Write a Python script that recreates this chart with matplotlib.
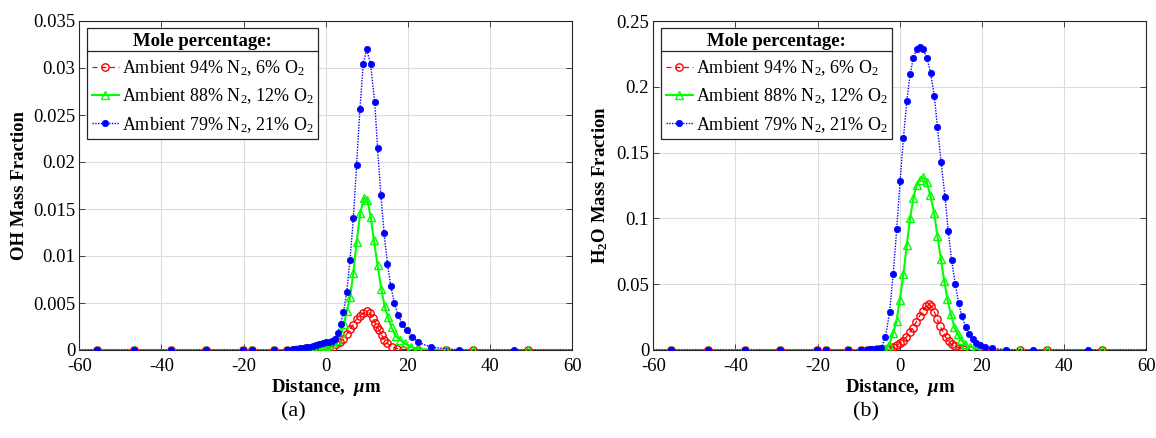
import matplotlib
matplotlib.use("Agg")
import matplotlib.pyplot as plt
from matplotlib.lines import Line2D
from matplotlib.ticker import FixedLocator, FixedFormatter

plt.rcParams['font.family'] = ['Liberation Serif', 'DejaVu Serif']
plt.rcParams['mathtext.fontset'] = 'custom'
plt.rcParams['mathtext.rm'] = 'Liberation Serif'
plt.rcParams['mathtext.it'] = 'Liberation Serif:italic:bold'
plt.rcParams['mathtext.bf'] = 'Liberation Serif:bold'
plt.rcParams['axes.unicode_minus'] = False

# ---------------- data: panel (a) OH mass fraction ----------------
a_red_x = [-60, -55.7, -46.7, -37.8, -29.1, -20.1, -17.9, -12.5, -9.4, -8.0, -7.2, -6.4, -5.6, -4.8,
           -4.0, -3.2, -2.4, -1.6, -0.8, 0.0, 0.9, 1.7, 2.6, 3.5, 4.3, 5.1, 5.9, 6.7, 7.5, 8.3, 9.1,
           9.95, 10.8, 11.4, 12.0, 12.5, 13.0, 13.6, 14.2, 15.0, 16.0, 17.3, 18.9, 22.5, 29.2, 35.9,
           49.3, 60]
a_red_y = [0, 0, 0, 0, 0, 0, 0, 0, 0, 0, 0, 0, 0, 0.00001,
           0.00001, 0.00001, 0.00002, 0.00002, 0.00003, 0.00005, 0.0001, 0.00035, 0.0006, 0.00088,
           0.0012, 0.0017, 0.0022, 0.0027, 0.0033, 0.0036, 0.0039,
           0.0041, 0.0039, 0.0034, 0.0029, 0.0025, 0.0021, 0.0016, 0.0011, 0.0007, 0.00035, 0.00014,
           0.00005, 0, 0, 0, 0, 0]

a_green_x = [-60, -55.7, -46.7, -37.8, -29.1, -20.1, -17.9, -12.5, -9.4, -8.0, -7.2, -6.4, -5.6,
             -4.8, -4.0, -3.2, -2.4, -1.6, -0.8, 0.0, 0.8, 1.7, 2.7, 3.6, 4.4, 5.1, 5.9, 6.7, 7.5,
             8.4, 9.3, 10.1, 10.9, 11.7, 12.6, 13.5, 14.3, 15.1, 16.0, 17.0, 18.0, 19.2, 20.8, 22.5,
             29.2, 35.9, 49.3, 60]
a_green_y = [0, 0, 0, 0, 0, 0, 0, 0, 0, 0.00005, 0.0001, 0.0001, 0.00012,
             0.00015, 0.0002, 0.00022, 0.00028, 0.0003, 0.00035, 0.0004, 0.0005, 0.0007, 0.0011,
             0.0018, 0.0028, 0.0041, 0.0056, 0.0082, 0.0115,
             0.0146, 0.0162, 0.0160, 0.0142, 0.0117, 0.0090, 0.0065, 0.0047, 0.0035, 0.0024, 0.0015,
             0.0011, 0.0007, 0.0003, 0.0001, 0, 0, 0, 0]

a_blue_x = [-60, -55.7, -46.7, -37.8, -29.1, -20.1, -17.9, -12.5, -9.4, -8.0, -7.2, -6.4, -5.6,
            -4.8, -4.0, -3.2, -2.4, -1.6, -0.8, 0.0, 0.7, 1.4, 2.2, 2.9, 3.6, 4.3, 5.1, 5.9, 6.7,
            7.5, 8.3, 9.1, 9.95, 10.9, 11.9, 12.6, 13.4, 14.2, 15.0, 15.8, 16.7, 17.6, 18.6, 19.7,
            21.1, 22.5, 25.7, 32.5, 45.9, 60]
a_blue_y = [0, 0, 0, 0, 0, 0, 0, 0, 0, 0.0001, 0.00015, 0.0002, 0.00025,
            0.0003, 0.00035, 0.0004, 0.0005, 0.0006, 0.0007, 0.0008, 0.0009, 0.001, 0.0012, 0.0018,
            0.0028, 0.0040, 0.0062, 0.0096, 0.0140,
            0.0197, 0.0256, 0.0304, 0.0320, 0.0304, 0.0264, 0.0215, 0.0165, 0.0124, 0.0092, 0.0068,
            0.0050, 0.0037, 0.0028, 0.0021, 0.0014, 0.0008, 0.0003, 0, 0, 0]

# ---------------- data: panel (b) H2O mass fraction ----------------
b_red_x = [-60, -55.7, -46.7, -37.8, -29.1, -20.1, -17.9, -12.5, -9.4, -8.0, -7.2, -6.4, -5.6,
           -4.8, -4.0, -3.2, -2.4, -1.6, -0.8, 0.0, 0.8, 1.6, 2.4, 3.2, 4.0, 4.8, 5.6, 6.3, 7.0,
           7.7, 8.4, 9.1, 9.8, 10.5, 11.2, 11.9, 12.6, 13.4, 14.4, 15.5, 17.3, 19.1, 22.5, 29.2,
           35.9, 49.3, 60]
b_red_y = [0, 0, 0, 0, 0, 0, 0, 0, 0, 0.0001, 0.0002, 0.0003, 0.0004,
           0.0006, 0.0008, 0.0011, 0.0016, 0.0025, 0.0035, 0.0050, 0.0072, 0.0098, 0.0134, 0.0170,
           0.0212, 0.0258, 0.0300, 0.0335, 0.0348,
           0.0335, 0.0290, 0.0232, 0.0185, 0.0139, 0.0095, 0.0065, 0.0043, 0.0027, 0.0016, 0.0008,
           0.0003, 0.0001, 0, 0, 0, 0, 0]

b_green_x = [-60, -55.7, -46.7, -37.8, -29.1, -20.1, -17.9, -12.5, -9.4, -8.0, -7.3, -6.6, -5.9,
             -5.2, -4.5, -3.8, -3.2, -2.6, -1.6, -0.8, 0.0, 0.9, 1.7, 2.5, 3.3, 4.1, 4.85, 5.6, 6.5,
             7.4, 8.35, 9.15, 10.0, 10.8, 11.6, 12.45, 13.25, 14.05, 14.9, 15.95, 17.1, 18.6, 22.4,
             29.1, 35.8, 49.2, 60]
b_green_y = [0, 0, 0, 0, 0, 0, 0, 0, 0, 0.0001, 0.0002, 0.0002, 0.0003,
             0.0004, 0.0005, 0.0008, 0.0015, 0.004, 0.013, 0.022, 0.038, 0.058, 0.080, 0.100, 0.1153,
             0.1255, 0.1295, 0.1315, 0.128,
             0.1178, 0.1043, 0.0866, 0.0689, 0.0527, 0.0385, 0.0270, 0.0177, 0.0125, 0.0076, 0.0045,
             0.0024, 0.0012, 0.0002, 0, 0, 0, 0]

b_blue_x = [-60, -55.7, -46.7, -37.8, -29.1, -20.1, -17.9, -12.5, -9.4, -8.0, -7.3, -6.6, -5.9,
            -5.2, -4.5, -3.5, -2.5, -1.6, -0.75, 0.07, 0.9, 1.7, 2.5, 3.3, 4.1, 4.95, 5.7, 6.6, 7.5,
            8.4, 9.15, 10.05, 11.0, 11.8, 12.6, 13.5, 14.3, 15.1, 16.0, 16.8, 17.7, 18.6, 19.6,
            20.8, 22.4, 25.9, 32.5, 45.9, 60]
b_blue_y = [0, 0, 0, 0, 0, 0, 0, 0, 0, 0.0003, 0.0004, 0.0005, 0.0006,
            0.0008, 0.0015, 0.0095, 0.0286, 0.0578, 0.0919, 0.1284, 0.1613, 0.1892, 0.2095, 0.222,
            0.2285, 0.2300, 0.2285, 0.222, 0.2107,
            0.1932, 0.1697, 0.1431, 0.1165, 0.0904, 0.0684, 0.0502, 0.0360, 0.0255, 0.0177, 0.0122,
            0.0080, 0.0050, 0.0035, 0.0020, 0.0012, 0.0003, 0, 0, 0]

labels = [r'Ambient 94% N$_2$, 6% O$_2$',
          r'Ambient 88% N$_2$, 12% O$_2$',
          r'Ambient 79% N$_2$, 21% O$_2$']
legend_title = 'Mole percentage:'

x_ticks = [-60, -40, -20, 0, 20, 40, 60]
a_yticks = [0, 0.005, 0.01, 0.015, 0.02, 0.025, 0.03, 0.035]
a_ylabels = ['0', '0.005', '0.01', '0.015', '0.02', '0.025', '0.03', '0.035']
b_yticks = [0, 0.05, 0.1, 0.15, 0.2, 0.25]
b_ylabels = ['0', '0.05', '0.1', '0.15', '0.2', '0.25']

W, H = 1156, 438
fig = plt.figure(figsize=(W / 100, H / 100), dpi=100)
ax_a = fig.add_axes([79.3 / W, (H - 350) / H, 493 / W, 329 / H])
ax_b = fig.add_axes([653.3 / W, (H - 350) / H, 493 / W, 329 / H])

TICK_FS = 13.5
LEG_FS = 13
LAB_FS = 13.5


def draw(ax, rx, ry, gx, gy, bx, by, yticks, ylabels, ylim, ylabel, ylab_x):
    ax.plot(rx, ry, color='#ff0000', ls=(0, (4, 3)), lw=0.9, marker='o', ms=5.3, mfc='none',
            mec='#ff0000', mew=1.0, markevery=slice(1, -1), label=labels[0], zorder=3)
    ax.plot(gx, gy, color='#00ff00', ls='-', lw=1.5, marker='^', ms=5.8, mfc='none',
            mec='#00ff00', mew=1.0, markevery=slice(1, -1), label=labels[1], zorder=4)
    ax.plot(bx, by, color='#0000ff', ls=(0, (1, 1)), lw=1.0, marker='o', ms=4.6, mfc='#0000ff',
            mec='#0000ff', mew=0.5, markevery=slice(1, -1), label=labels[2], zorder=5)
    ax.set_xlim(-60, 60)
    ax.set_ylim(*ylim)
    ax.xaxis.set_major_locator(FixedLocator(x_ticks))
    ax.xaxis.set_major_formatter(FixedFormatter([str(t) for t in x_ticks]))
    ax.yaxis.set_major_locator(FixedLocator(yticks))
    ax.yaxis.set_major_formatter(FixedFormatter(ylabels))
    ax.tick_params(direction='in', length=4, width=0.6, top=True, right=True,
                   labelsize=TICK_FS, colors='#262626', labelcolor='black')
    ax.tick_params(axis='x', pad=6)
    ax.tick_params(axis='y', pad=3)
    ax.grid(True, color='#dcdcdc', lw=0.8)
    ax.set_axisbelow(True)
    for s in ax.spines.values():
        s.set_color('#262626')
        s.set_linewidth(0.8)
    ax.set_xlabel(r'Distance,  $\mu$m', fontsize=LAB_FS, fontweight='bold', labelpad=1)
    ax.set_ylabel(ylabel, fontsize=LAB_FS, fontweight='bold')
    ax.yaxis.set_label_coords(ylab_x, 0.5)
    leg = ax.legend(loc='upper left', bbox_to_anchor=(0.0162, 0.978), borderaxespad=0,
                    title=legend_title, fontsize=LEG_FS, frameon=True, fancybox=False,
                    edgecolor='#262626', framealpha=1, handlelength=1.5, handletextpad=0.15,
                    borderpad=0.25, labelspacing=0.47)
    leg.get_title().set_fontweight('bold')
    leg.get_title().set_fontsize(LAB_FS)
    leg.get_frame().set_linewidth(0.9)
    return leg


leg_a = draw(ax_a, a_red_x, a_red_y, a_green_x, a_green_y, a_blue_x, a_blue_y,
             a_yticks, a_ylabels, (0, 0.035), 'OH Mass Fraction', -0.104)
leg_b = draw(ax_b, b_red_x, b_red_y, b_green_x, b_green_y, b_blue_x, b_blue_y,
             b_yticks, b_ylabels, (0, 0.25), r'$\mathbf{H_2O}$ Mass Fraction', -0.087)

fig.text(293 / W, (H - 412) / H, '(a)', fontsize=16, ha='center', va='center')
fig.text(866 / W, (H - 412) / H, '(b)', fontsize=16, ha='center', va='center')

# separator line under the legend title
fig.canvas.draw()
inv = fig.transFigure.inverted()
r = fig.canvas.get_renderer()
for leg in (leg_a, leg_b):
    lb = leg.get_frame().get_window_extent(r)
    tb = leg.get_title().get_window_extent(r)
    ysep = tb.y0 - 1.5
    p0 = inv.transform((lb.x0, ysep))
    p1 = inv.transform((lb.x1, ysep))
    fig.add_artist(Line2D([p0[0], p1[0]], [p0[1], p1[1]], transform=fig.transFigure,
                          color='#262626', lw=0.9, zorder=10))

fig.savefig('out.png', dpi=100)
